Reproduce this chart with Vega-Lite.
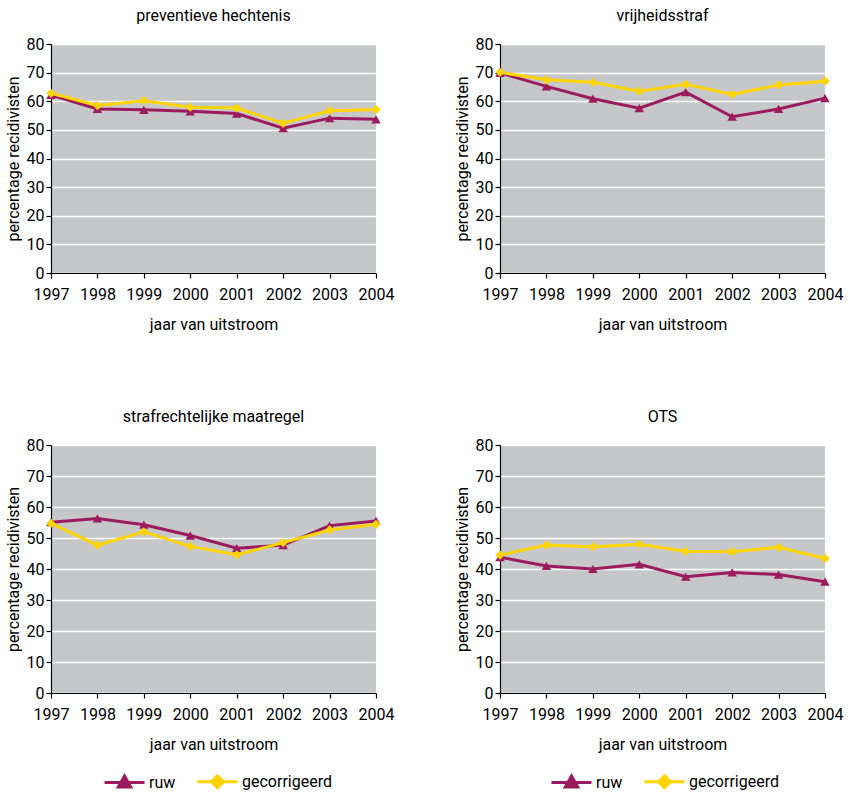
{
  "$schema": "https://vega.github.io/schema/vega-lite/v6.json",
  "background": "white",
  "padding": {"left": 5, "top": 8, "right": 5, "bottom": 5},
  "config": {
    "font": "Roboto",
    "view": {"fill": "#c6c7c9", "stroke": null},
    "title": {"fontSize": 16, "fontWeight": "normal", "color": "black", "offset": 12},
    "axis": {"labelFontSize": 16, "titleFontSize": 16, "titleFontWeight": "normal", "labelColor": "black", "titleColor": "black", "domainColor": "black", "tickColor": "black", "domainWidth": 1.2, "tickWidth": 1.2},
    "legend": {"labelFontSize": 16, "labelColor": "black"}
  },
  "datasets": {
    "d": [
      {"panel": "preventieve hechtenis", "series": "ruw", "year": "1997", "value": 62.2},
      {"panel": "preventieve hechtenis", "series": "ruw", "year": "1998", "value": 57.3},
      {"panel": "preventieve hechtenis", "series": "ruw", "year": "1999", "value": 57.0},
      {"panel": "preventieve hechtenis", "series": "ruw", "year": "2000", "value": 56.5},
      {"panel": "preventieve hechtenis", "series": "ruw", "year": "2001", "value": 55.7},
      {"panel": "preventieve hechtenis", "series": "ruw", "year": "2002", "value": 50.6},
      {"panel": "preventieve hechtenis", "series": "ruw", "year": "2003", "value": 54.1},
      {"panel": "preventieve hechtenis", "series": "ruw", "year": "2004", "value": 53.7},
      {"panel": "preventieve hechtenis", "series": "gecorrigeerd", "year": "1997", "value": 62.8},
      {"panel": "preventieve hechtenis", "series": "gecorrigeerd", "year": "1998", "value": 58.5},
      {"panel": "preventieve hechtenis", "series": "gecorrigeerd", "year": "1999", "value": 60.2},
      {"panel": "preventieve hechtenis", "series": "gecorrigeerd", "year": "2000", "value": 57.9},
      {"panel": "preventieve hechtenis", "series": "gecorrigeerd", "year": "2001", "value": 57.6},
      {"panel": "preventieve hechtenis", "series": "gecorrigeerd", "year": "2002", "value": 52.3},
      {"panel": "preventieve hechtenis", "series": "gecorrigeerd", "year": "2003", "value": 56.7},
      {"panel": "preventieve hechtenis", "series": "gecorrigeerd", "year": "2004", "value": 57.1},
      {"panel": "vrijheidsstraf", "series": "ruw", "year": "1997", "value": 69.9},
      {"panel": "vrijheidsstraf", "series": "ruw", "year": "1998", "value": 65.2},
      {"panel": "vrijheidsstraf", "series": "ruw", "year": "1999", "value": 60.9},
      {"panel": "vrijheidsstraf", "series": "ruw", "year": "2000", "value": 57.6},
      {"panel": "vrijheidsstraf", "series": "ruw", "year": "2001", "value": 63.2},
      {"panel": "vrijheidsstraf", "series": "ruw", "year": "2002", "value": 54.6},
      {"panel": "vrijheidsstraf", "series": "ruw", "year": "2003", "value": 57.3},
      {"panel": "vrijheidsstraf", "series": "ruw", "year": "2004", "value": 61.1},
      {"panel": "vrijheidsstraf", "series": "gecorrigeerd", "year": "1997", "value": 70.1},
      {"panel": "vrijheidsstraf", "series": "gecorrigeerd", "year": "1998", "value": 67.5},
      {"panel": "vrijheidsstraf", "series": "gecorrigeerd", "year": "1999", "value": 66.6},
      {"panel": "vrijheidsstraf", "series": "gecorrigeerd", "year": "2000", "value": 63.5},
      {"panel": "vrijheidsstraf", "series": "gecorrigeerd", "year": "2001", "value": 65.9},
      {"panel": "vrijheidsstraf", "series": "gecorrigeerd", "year": "2002", "value": 62.4},
      {"panel": "vrijheidsstraf", "series": "gecorrigeerd", "year": "2003", "value": 65.7},
      {"panel": "vrijheidsstraf", "series": "gecorrigeerd", "year": "2004", "value": 67.0},
      {"panel": "strafrechtelijke maatregel", "series": "ruw", "year": "1997", "value": 55.1},
      {"panel": "strafrechtelijke maatregel", "series": "ruw", "year": "1998", "value": 56.3},
      {"panel": "strafrechtelijke maatregel", "series": "ruw", "year": "1999", "value": 54.3},
      {"panel": "strafrechtelijke maatregel", "series": "ruw", "year": "2000", "value": 50.8},
      {"panel": "strafrechtelijke maatregel", "series": "ruw", "year": "2001", "value": 46.7},
      {"panel": "strafrechtelijke maatregel", "series": "ruw", "year": "2002", "value": 47.7},
      {"panel": "strafrechtelijke maatregel", "series": "ruw", "year": "2003", "value": 54.0},
      {"panel": "strafrechtelijke maatregel", "series": "ruw", "year": "2004", "value": 55.5},
      {"panel": "strafrechtelijke maatregel", "series": "gecorrigeerd", "year": "1997", "value": 54.7},
      {"panel": "strafrechtelijke maatregel", "series": "gecorrigeerd", "year": "1998", "value": 47.7},
      {"panel": "strafrechtelijke maatregel", "series": "gecorrigeerd", "year": "1999", "value": 52.0},
      {"panel": "strafrechtelijke maatregel", "series": "gecorrigeerd", "year": "2000", "value": 47.3},
      {"panel": "strafrechtelijke maatregel", "series": "gecorrigeerd", "year": "2001", "value": 44.6},
      {"panel": "strafrechtelijke maatregel", "series": "gecorrigeerd", "year": "2002", "value": 48.5},
      {"panel": "strafrechtelijke maatregel", "series": "gecorrigeerd", "year": "2003", "value": 52.6},
      {"panel": "strafrechtelijke maatregel", "series": "gecorrigeerd", "year": "2004", "value": 54.4},
      {"panel": "OTS", "series": "ruw", "year": "1997", "value": 43.8},
      {"panel": "OTS", "series": "ruw", "year": "1998", "value": 41.0},
      {"panel": "OTS", "series": "ruw", "year": "1999", "value": 40.0},
      {"panel": "OTS", "series": "ruw", "year": "2000", "value": 41.5},
      {"panel": "OTS", "series": "ruw", "year": "2001", "value": 37.5},
      {"panel": "OTS", "series": "ruw", "year": "2002", "value": 38.9},
      {"panel": "OTS", "series": "ruw", "year": "2003", "value": 38.2},
      {"panel": "OTS", "series": "ruw", "year": "2004", "value": 35.9},
      {"panel": "OTS", "series": "gecorrigeerd", "year": "1997", "value": 44.5},
      {"panel": "OTS", "series": "gecorrigeerd", "year": "1998", "value": 47.7},
      {"panel": "OTS", "series": "gecorrigeerd", "year": "1999", "value": 47.2},
      {"panel": "OTS", "series": "gecorrigeerd", "year": "2000", "value": 48.0},
      {"panel": "OTS", "series": "gecorrigeerd", "year": "2001", "value": 45.7},
      {"panel": "OTS", "series": "gecorrigeerd", "year": "2002", "value": 45.6},
      {"panel": "OTS", "series": "gecorrigeerd", "year": "2003", "value": 47.0},
      {"panel": "OTS", "series": "gecorrigeerd", "year": "2004", "value": 43.4}
    ]
  },
  "bounds": "flush",
  "spacing": 401,
  "resolve": {"scale": {"color": "independent"}, "legend": {"color": "independent"}},
  "vconcat": [
    {
      "bounds": "flush",
      "spacing": 124,
      "resolve": {"scale": {"color": "independent"}, "legend": {"color": "independent"}},
      "hconcat": [
        {
          "width": 325, "height": 229,
          "title": "preventieve hechtenis",
          "data": {"name": "d"},
          "transform": [{"filter": "datum.panel === 'preventieve hechtenis'"}],
          "encoding": {
            "x": {"field": "year", "type": "ordinal", "scale": {"type": "point", "padding": 0}, "axis": {"title": "jaar van uitstroom", "labelAngle": 0, "tickSize": 5, "labelPadding": 8, "titlePadding": 14, "grid": false}},
            "y": {"field": "value", "type": "quantitative", "scale": {"domain": [0, 80]}, "axis": {"title": "percentage recidivisten", "values": [0, 10, 20, 30, 40, 50, 60, 70, 80], "gridColor": "white", "gridWidth": 1.5, "tickSize": 5, "labelPadding": 2, "titlePadding": 5}},
            "color": {"field": "series", "type": "nominal", "scale": {"domain": ["ruw", "gecorrigeerd"], "range": ["#9b1b5e", "#ffd400"]}, "legend": null}
          },
          "layer": [
            {"transform": [{"filter": "datum.series === 'ruw'"}], "mark": {"type": "line", "strokeWidth": 3}},
            {"transform": [{"filter": "datum.series === 'ruw'"}], "mark": {"type": "point", "shape": "triangle-up", "filled": true, "size": 90, "opacity": 1}},
            {"transform": [{"filter": "datum.series === 'gecorrigeerd'"}], "mark": {"type": "line", "strokeWidth": 3}},
            {"transform": [{"filter": "datum.series === 'gecorrigeerd'"}], "mark": {"type": "point", "shape": "diamond", "filled": true, "size": 85, "opacity": 1}}
          ]
        },
        {
          "width": 325, "height": 229,
          "title": "vrijheidsstraf",
          "data": {"name": "d"},
          "transform": [{"filter": "datum.panel === 'vrijheidsstraf'"}],
          "encoding": {
            "x": {"field": "year", "type": "ordinal", "scale": {"type": "point", "padding": 0}, "axis": {"title": "jaar van uitstroom", "labelAngle": 0, "tickSize": 5, "labelPadding": 8, "titlePadding": 14, "grid": false}},
            "y": {"field": "value", "type": "quantitative", "scale": {"domain": [0, 80]}, "axis": {"title": "percentage recidivisten", "values": [0, 10, 20, 30, 40, 50, 60, 70, 80], "gridColor": "white", "gridWidth": 1.5, "tickSize": 5, "labelPadding": 2, "titlePadding": 5}},
            "color": {"field": "series", "type": "nominal", "scale": {"domain": ["ruw", "gecorrigeerd"], "range": ["#9b1b5e", "#ffd400"]}, "legend": null}
          },
          "layer": [
            {"transform": [{"filter": "datum.series === 'ruw'"}], "mark": {"type": "line", "strokeWidth": 3}},
            {"transform": [{"filter": "datum.series === 'ruw'"}], "mark": {"type": "point", "shape": "triangle-up", "filled": true, "size": 90, "opacity": 1}},
            {"transform": [{"filter": "datum.series === 'gecorrigeerd'"}], "mark": {"type": "line", "strokeWidth": 3}},
            {"transform": [{"filter": "datum.series === 'gecorrigeerd'"}], "mark": {"type": "point", "shape": "diamond", "filled": true, "size": 85, "opacity": 1}}
          ]
        }
      ]
    },
    {
      "bounds": "flush",
      "spacing": 124,
      "resolve": {"scale": {"color": "independent"}, "legend": {"color": "independent"}},
      "hconcat": [
        {
          "width": 325, "height": 248,
          "title": "strafrechtelijke maatregel",
          "data": {"name": "d"},
          "transform": [{"filter": "datum.panel === 'strafrechtelijke maatregel'"}],
          "encoding": {
            "x": {"field": "year", "type": "ordinal", "scale": {"type": "point", "padding": 0}, "axis": {"title": "jaar van uitstroom", "labelAngle": 0, "tickSize": 5, "labelPadding": 8, "titlePadding": 14, "grid": false}},
            "y": {"field": "value", "type": "quantitative", "scale": {"domain": [0, 80]}, "axis": {"title": "percentage recidivisten", "values": [0, 10, 20, 30, 40, 50, 60, 70, 80], "gridColor": "white", "gridWidth": 1.5, "tickSize": 5, "labelPadding": 2, "titlePadding": 5}},
            "color": {"field": "series", "type": "nominal", "scale": {"domain": ["ruw", "gecorrigeerd"], "range": ["#9b1b5e", "#ffd400"]},
              "legend": {"title": null, "orient": "none", "direction": "horizontal", "legendX": 62, "legendY": 325, "symbolSize": 400, "labelOffset": 13, "columnPadding": 15, "symbolStrokeWidth": 3, "symbolOpacity": 1,
                "encode": {"symbols": {"update": {
                  "shape": {"signal": "datum.value === 'ruw' ? 'M-2,0H2M0,-0.65L0.62,0.45H-0.62Z' : 'M-2,0H2M0,-0.6L0.6,0L0,0.6L-0.6,0Z'"},
                  "stroke": {"signal": "datum.value === 'ruw' ? '#9b1b5e' : '#ffd400'"},
                  "fill": {"signal": "datum.value === 'ruw' ? '#9b1b5e' : '#ffd400'"},
                  "strokeWidth": {"value": 3},
                  "opacity": {"value": 1}
                }}}}}
          },
          "layer": [
            {"transform": [{"filter": "datum.series === 'ruw'"}], "mark": {"type": "line", "strokeWidth": 3}},
            {"transform": [{"filter": "datum.series === 'ruw'"}], "mark": {"type": "point", "shape": "triangle-up", "filled": true, "size": 90, "opacity": 1}},
            {"transform": [{"filter": "datum.series === 'gecorrigeerd'"}], "mark": {"type": "line", "strokeWidth": 3}},
            {"transform": [{"filter": "datum.series === 'gecorrigeerd'"}], "mark": {"type": "point", "shape": "diamond", "filled": true, "size": 85, "opacity": 1}}
          ]
        },
        {
          "width": 325, "height": 248,
          "title": "OTS",
          "data": {"name": "d"},
          "transform": [{"filter": "datum.panel === 'OTS'"}],
          "encoding": {
            "x": {"field": "year", "type": "ordinal", "scale": {"type": "point", "padding": 0}, "axis": {"title": "jaar van uitstroom", "labelAngle": 0, "tickSize": 5, "labelPadding": 8, "titlePadding": 14, "grid": false}},
            "y": {"field": "value", "type": "quantitative", "scale": {"domain": [0, 80]}, "axis": {"title": "percentage recidivisten", "values": [0, 10, 20, 30, 40, 50, 60, 70, 80], "gridColor": "white", "gridWidth": 1.5, "tickSize": 5, "labelPadding": 2, "titlePadding": 5}},
            "color": {"field": "series", "type": "nominal", "scale": {"domain": ["ruw", "gecorrigeerd"], "range": ["#9b1b5e", "#ffd400"]},
              "legend": {"title": null, "orient": "none", "direction": "horizontal", "legendX": 60, "legendY": 325, "symbolSize": 400, "labelOffset": 13, "columnPadding": 15, "symbolStrokeWidth": 3, "symbolOpacity": 1,
                "encode": {"symbols": {"update": {
                  "shape": {"signal": "datum.value === 'ruw' ? 'M-2,0H2M0,-0.65L0.62,0.45H-0.62Z' : 'M-2,0H2M0,-0.6L0.6,0L0,0.6L-0.6,0Z'"},
                  "stroke": {"signal": "datum.value === 'ruw' ? '#9b1b5e' : '#ffd400'"},
                  "fill": {"signal": "datum.value === 'ruw' ? '#9b1b5e' : '#ffd400'"},
                  "strokeWidth": {"value": 3},
                  "opacity": {"value": 1}
                }}}}}
          },
          "layer": [
            {"transform": [{"filter": "datum.series === 'ruw'"}], "mark": {"type": "line", "strokeWidth": 3}},
            {"transform": [{"filter": "datum.series === 'ruw'"}], "mark": {"type": "point", "shape": "triangle-up", "filled": true, "size": 90, "opacity": 1}},
            {"transform": [{"filter": "datum.series === 'gecorrigeerd'"}], "mark": {"type": "line", "strokeWidth": 3}},
            {"transform": [{"filter": "datum.series === 'gecorrigeerd'"}], "mark": {"type": "point", "shape": "diamond", "filled": true, "size": 85, "opacity": 1}}
          ]
        }
      ]
    }
  ]
}
